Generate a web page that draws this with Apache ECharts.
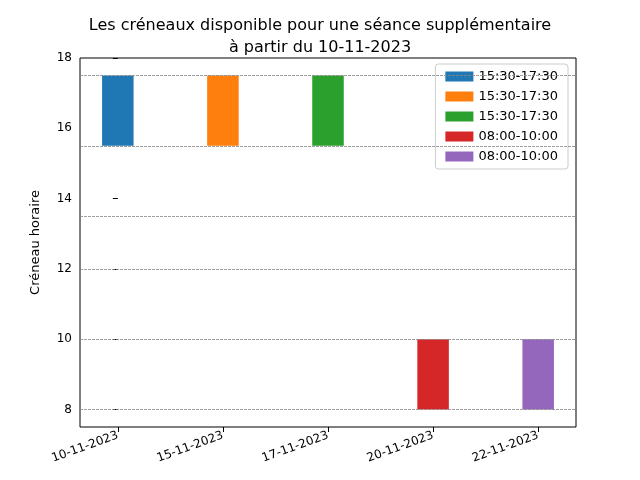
<!DOCTYPE html>
<html>
<head>
<meta charset="utf-8">
<script src="https://cdn.jsdelivr.net/npm/echarts@6/dist/echarts.min.js"></script>
<style>html,body{margin:0;background:#fff}#chart{width:640px;height:480px}</style>
</head>
<body>
<div id="chart"></div>
<script>
var dates = ["10-11-2023", "15-11-2023", "17-11-2023", "20-11-2023", "22-11-2023"];
var slotNames = ["15:30-17:30", "15:30-17:30", "15:30-17:30", "08:00-10:00", "08:00-10:00"];
var startHours = [15.5, 15.5, 15.5, 8, 8];
var endHours = [17.5, 17.5, 17.5, 10, 10];
var colors = ["#1f77b4", "#ff7f0e", "#2ca02c", "#d62728", "#9467bd"];
var gridValues = [8, 10, 12, 13.5, 15.5, 17.5];

var chart = echarts.init(document.getElementById('chart'));
var series = dates.map(function (d, i) {
  var s = {
    name: slotNames[i] + (i > 0 && slotNames[i] === slotNames[i - 1] ? '\u200b'.repeat(i) : ''),
    type: 'custom',
    itemStyle: { color: colors[i] },
    data: [[i, startHours[i], endHours[i]]],
    renderItem: function (params, api) {
      var p1 = api.coord([api.value(0) - 0.15, api.value(2)]);
      var p2 = api.coord([api.value(0) + 0.15, api.value(1)]);
      return { type: 'rect', shape: { x: p1[0], y: p1[1], width: p2[0] - p1[0], height: p2[1] - p1[1] },
        style: { fill: colors[i] } };
    }
  };
  if (i === 0) {
    s.markLine = { silent: true, symbol: 'none', label: { show: false },
      lineStyle: { color: '#888', type: [3, 1], width: 0.8 },
      data: gridValues.map(function (v) { return { yAxis: v }; }) };
  }
  return s;
});

chart.setOption({
  animation: false,
  title: { text: 'Les créneaux disponible pour une séance supplémentaire\nà partir du 10-11-2023',
    left: 'center', top: 10, textStyle: { fontFamily: 'DejaVu Sans', fontSize: 16, fontWeight: 'normal', color: '#000', lineHeight: 22 } },
  legend: { orient: 'vertical', right: 72, top: 64, itemWidth: 28, itemHeight: 10, itemGap: 7,
    borderColor: '#ccc', borderWidth: 1, borderRadius: 3, padding: [6, 10],
    icon: 'rect', textStyle: { fontFamily: 'DejaVu Sans', fontSize: 13, color: '#000' },
    formatter: function (n) { return n.replace(/\u200b/g, ''); } },
  grid: { left: 80, right: 64, top: 58, bottom: 53, show: true, borderColor: '#000', borderWidth: 1 },
  xAxis: { type: 'value', min: -0.36, max: 4.36,
    axisLine: { show: false }, splitLine: { show: false },
    axisTick: { show: true, customValues: [0, 1, 2, 3, 4], lineStyle: { color: '#000' } },
    axisLabel: { customValues: [0, 1, 2, 3, 4], rotate: 20, color: '#000', fontFamily: 'DejaVu Sans', fontSize: 12,
      formatter: function (v) { return dates[Math.round(v)]; } } },
  yAxis: { type: 'value', min: 7.5, max: 18, name: 'Créneau horaire', nameLocation: 'middle', nameGap: 38,
    nameTextStyle: { fontFamily: 'DejaVu Sans', fontSize: 13, color: '#000' },
    axisLine: { show: false }, splitLine: { show: false },
    axisTick: { show: true, customValues: [8, 10, 12, 14, 16, 18], lineStyle: { color: '#000' } },
    axisLabel: { customValues: [8, 10, 12, 14, 16, 18], color: '#000', fontFamily: 'DejaVu Sans', fontSize: 12 } },
  series: series
});
</script>
</body>
</html>
